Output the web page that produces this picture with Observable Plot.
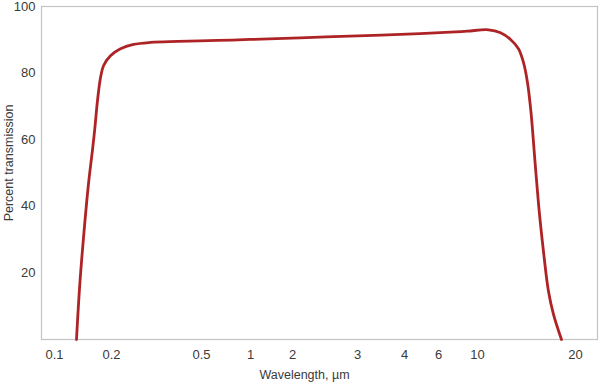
<!DOCTYPE html>
<html>
<head>
<meta charset="utf-8">
<script src="https://cdn.jsdelivr.net/npm/d3@7"></script>
<script src="https://cdn.jsdelivr.net/npm/@observablehq/plot@0.6"></script>
<style>
  html, body { margin: 0; padding: 0; background: #fff; }
  #chart { width: 600px; height: 385px; }
</style>
</head>
<body>
<div id="chart"></div>
<script>
// Tick values of the (non-uniform) wavelength axis and their positions
const xTicks = [0.1, 0.2, 0.5, 1, 2, 3, 4, 6, 10, 20];
const xTickPos = [54, 111, 201, 250, 292, 357, 404, 438, 477, 575];
const yTicks = [20, 40, 60, 80, 100];

// Transmission curve
const wavelength = [0.1386, 0.1444, 0.1514, 0.1596, 0.1667, 0.1711, 0.1754, 0.1807, 0.186, 0.1982,
  0.23, 0.2733, 0.33, 0.42, 0.663, 1, 2.12, 3, 3.915, 7.23, 8.97, 11.12, 12.35, 13.37, 14.18,
  14.69, 15.10, 15.45, 15.92, 16.33, 16.73, 17.24, 17.76, 18.57];
const transmission = [0, 16.6, 31.6, 46.7, 57, 64, 71.7, 78.6, 82.2, 85.2,
  87.3, 88.6, 89.2, 89.5, 89.8, 90.1, 90.6, 91.2, 91.6, 92.3, 92.6, 93.0, 92.1, 90.1, 87.3,
  83.2, 77.2, 68.5, 51.5, 37.5, 26.5, 14.5, 7.5, 0];

const data = wavelength.map((w, i) => ({w, t: transmission[i]}));
const font = "'Liberation Sans', Arial, Helvetica, sans-serif";

const chart = Plot.plot({
  width: 600,
  height: 385,
  marginLeft: 41,
  marginRight: 3,
  marginTop: 6,
  marginBottom: 46,
  style: {fontFamily: font, fontSize: "13px", color: "#3a3a3a", background: "#fff"},
  x: {type: "linear", domain: xTicks, range: xTickPos},
  y: {domain: [0, 100]},
  marks: [
    Plot.frame({stroke: "#c4c4c4", strokeWidth: 1.2}),
    Plot.axisX({ticks: xTicks, tickSize: 0, tickPadding: 10, tickFormat: d => String(d), label: null, fontSize: 13}),
    Plot.axisY({ticks: yTicks, tickSize: 0, tickPadding: 6, label: null, fontSize: 13}),
    Plot.line(data, {x: "w", y: "t", stroke: "#ae2426", strokeWidth: 2.8, curve: "catmull-rom"}),
    Plot.text(["Wavelength, µm"], {frameAnchor: "bottom", textAnchor: "middle", dx: -15, dy: 39, fontSize: 12.5, fill: "#3a3a3a"}),
    Plot.text(["Percent transmission"], {frameAnchor: "left", textAnchor: "middle", dx: -33, dy: -10, rotate: -90, fontSize: 12.5, fill: "#3a3a3a"})
  ]
});
document.getElementById("chart").appendChild(chart);
</script>
</body>
</html>
